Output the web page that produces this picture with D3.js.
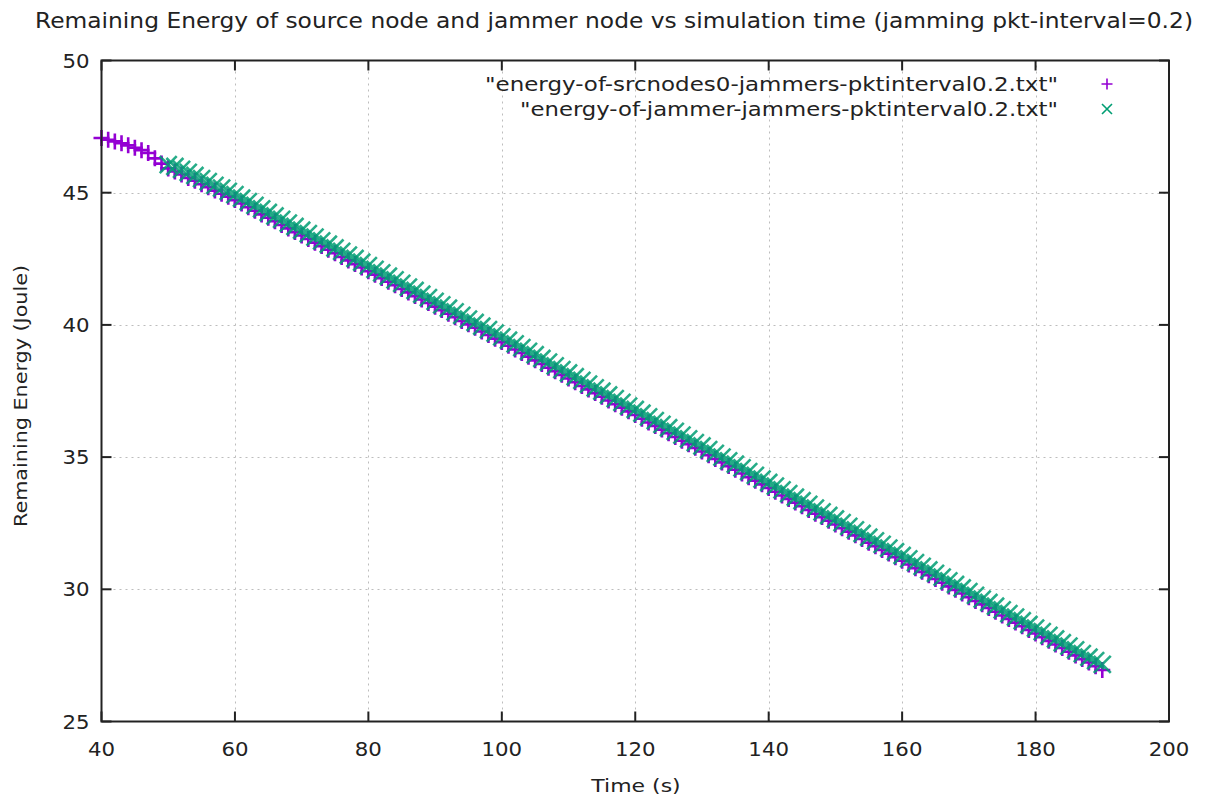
<!DOCTYPE html>
<html>
<head>
<meta charset="utf-8">
<script src="https://cdn.jsdelivr.net/npm/d3@7"></script>
<style>
  body { margin: 0; background: #fff; }
  text { font-family: "DejaVu Sans", sans-serif; fill: #222; }
</style>
</head>
<body>
<script>
// chart values
var titleText = "Remaining Energy of source node and jammer node vs simulation time (jamming pkt-interval=0.2)";
var xLabel = "Time (s)";
var yLabel = "Remaining Energy (Joule)";
var xTicks = [40, 60, 80, 100, 120, 140, 160, 180, 200];
var yTicks = [25, 30, 35, 40, 45, 50];
var seriesNames = ['"energy-of-srcnodes0-jammers-pktinterval0.2.txt"', '"energy-of-jammer-jammers-pktinterval0.2.txt"'];

// source node, one sample per second from t=40
var srcStart = 40;
var srcEnergy = [
  47.07, 47.00, 46.94, 46.87, 46.79, 46.70, 46.61, 46.50, 46.30, 46.10,
  45.92, 45.80, 45.69, 45.56, 45.45, 45.32, 45.21, 45.08, 44.96, 44.85,
  44.72, 44.59, 44.45, 44.32, 44.18, 44.05, 43.92, 43.78, 43.65, 43.51,
  43.38, 43.25, 43.11, 42.98, 42.84, 42.71, 42.57, 42.44, 42.30, 42.17,
  42.03, 41.90, 41.77, 41.63, 41.50, 41.36, 41.23, 41.09, 40.96, 40.83,
  40.69, 40.56, 40.42, 40.29, 40.15, 40.02, 39.89, 39.75, 39.62, 39.48,
  39.35, 39.21, 39.07, 38.94, 38.80, 38.66, 38.52, 38.38, 38.25, 38.11,
  37.97, 37.83, 37.69, 37.56, 37.42, 37.28, 37.14, 37.00, 36.87, 36.73,
  36.59, 36.45, 36.31, 36.18, 36.04, 35.90, 35.76, 35.62, 35.49, 35.35,
  35.21, 35.07, 34.93, 34.80, 34.66, 34.52, 34.38, 34.24, 34.11, 33.97,
  33.83, 33.69, 33.55, 33.42, 33.28, 33.14, 33.00, 32.86, 32.73, 32.59,
  32.45, 32.31, 32.18, 32.04, 31.90, 31.76, 31.63, 31.49, 31.35, 31.21,
  31.08, 30.94, 30.80, 30.66, 30.53, 30.39, 30.25, 30.11, 29.98, 29.84,
  29.70, 29.56, 29.43, 29.29, 29.15, 29.01, 28.88, 28.74, 28.60, 28.46,
  28.33, 28.19, 28.05, 27.91, 27.78, 27.64, 27.50, 27.36, 27.23, 27.09,
  26.95
];

// jammer node, one sample per second from t=50
var jamStart = 50;
var jamEnergy = [
  46.06, 45.99, 45.88, 45.77, 45.65, 45.53, 45.42, 45.28, 45.17, 45.05,
  44.93, 44.79, 44.66, 44.52, 44.39, 44.25, 44.12, 43.99, 43.85, 43.72,
  43.58, 43.45, 43.32, 43.18, 43.05, 42.91, 42.78, 42.64, 42.51, 42.37,
  42.24, 42.10, 41.97, 41.84, 41.70, 41.57, 41.43, 41.30, 41.16, 41.03,
  40.89, 40.76, 40.63, 40.49, 40.36, 40.22, 40.09, 39.95, 39.82, 39.69,
  39.55, 39.42, 39.28, 39.14, 39.00, 38.87, 38.73, 38.59, 38.45, 38.31,
  38.18, 38.04, 37.90, 37.76, 37.62, 37.49, 37.35, 37.21, 37.07, 36.93,
  36.80, 36.66, 36.52, 36.38, 36.24, 36.11, 35.97, 35.83, 35.69, 35.55,
  35.42, 35.28, 35.14, 35.00, 34.86, 34.73, 34.59, 34.45, 34.31, 34.17,
  34.04, 33.90, 33.76, 33.62, 33.48, 33.35, 33.21, 33.07, 32.93, 32.79,
  32.66, 32.52, 32.38, 32.25, 32.11, 31.97, 31.83, 31.70, 31.56, 31.42,
  31.28, 31.15, 31.01, 30.87, 30.73, 30.60, 30.46, 30.32, 30.18, 30.05,
  29.91, 29.77, 29.63, 29.50, 29.36, 29.22, 29.08, 28.95, 28.81, 28.67,
  28.53, 28.40, 28.26, 28.12, 27.98, 27.85, 27.71, 27.57, 27.43, 27.30,
  27.16
];

var width = 1205, height = 796;
var margin = {left: 101.5, right: 1205 - 1169, top: 60.5, bottom: 796 - 721.5};
var colors = ["#9400d3", "#009e73"];

var svg = d3.select("body").append("svg")
  .attr("width", width)
  .attr("height", height);

var x = d3.scaleLinear().domain([40, 200]).range([margin.left, width - margin.right]);
var y = d3.scaleLinear().domain([25, 50]).range([height - margin.bottom, margin.top]);

// the reference output is a little wider than tall, so widen text a bit
function stretch(sel, f) {
  sel.each(function() {
    var w = this.getComputedTextLength();
    d3.select(this).attr("textLength", w * f).attr("lengthAdjust", "spacingAndGlyphs");
  });
}

// dotted grid
var grid = svg.append("g")
  .attr("stroke", "#bdbdbd")
  .attr("stroke-width", 1)
  .attr("stroke-dasharray", "2,4");
grid.selectAll(".gx").data(xTicks.slice(1, -1)).enter().append("line")
  .attr("x1", function(d) { return Math.round(x(d)) + 0.5; })
  .attr("x2", function(d) { return Math.round(x(d)) + 0.5; })
  .attr("y1", y(25)).attr("y2", y(50));
grid.selectAll(".gy").data(yTicks.slice(1, -1)).enter().append("line")
  .attr("y1", function(d) { return Math.round(y(d)) + 0.5; })
  .attr("y2", function(d) { return Math.round(y(d)) + 0.5; })
  .attr("x1", x(40)).attr("x2", x(200));

// build point lists
var srcPts = srcEnergy.map(function(v, i) { return {t: srcStart + i, e: v}; });
var jamPts = jamEnergy.map(function(v, i) { return {t: jamStart + i, e: v}; });

function plusPath(s) { return "M" + (-s) + ",0H" + s + "M0," + (-s) + "V" + s; }
function crossPath(s) { return "M" + (-s) + "," + (-s) + "L" + s + "," + s + "M" + (-s) + "," + s + "L" + s + "," + (-s); }

svg.append("g").selectAll("path").data(srcPts).enter().append("path")
  .attr("d", plusPath(8))
  .attr("transform", function(d) { return "translate(" + x(d.t) + "," + y(d.e) + ")"; })
  .attr("stroke", colors[0])
  .attr("stroke-width", 2.6)
  .attr("fill", "none");

svg.append("g").selectAll("path").data(jamPts).enter().append("path")
  .attr("d", crossPath(8.5))
  .attr("transform", function(d) { return "translate(" + x(d.t) + "," + y(d.e) + ")"; })
  .attr("stroke", colors[1])
  .attr("stroke-width", 2.6)
  .attr("stroke-opacity", 0.85)
  .attr("fill", "none");

// frame with mirrored inward ticks
var axisG = svg.append("g").attr("stroke", "#222").attr("stroke-width", 2).attr("fill", "none");
axisG.append("rect")
  .attr("x", x(40)).attr("y", y(50))
  .attr("width", x(200) - x(40)).attr("height", y(25) - y(50));
var tickLen = 10;
xTicks.forEach(function(d) {
  axisG.append("line").attr("x1", x(d)).attr("x2", x(d)).attr("y1", y(25)).attr("y2", y(25) - tickLen);
  axisG.append("line").attr("x1", x(d)).attr("x2", x(d)).attr("y1", y(50)).attr("y2", y(50) + tickLen);
});
yTicks.forEach(function(d) {
  axisG.append("line").attr("y1", y(d)).attr("y2", y(d)).attr("x1", x(40)).attr("x2", x(40) + tickLen);
  axisG.append("line").attr("y1", y(d)).attr("y2", y(d)).attr("x1", x(200)).attr("x2", x(200) - tickLen);
});

// tick labels
svg.append("g").selectAll("text").data(xTicks).enter().append("text")
  .attr("x", function(d) { return x(d); })
  .attr("y", y(25) + 34)
  .attr("text-anchor", "middle")
  .style("font-size", "19px")
  .text(function(d) { return d; })
  .call(stretch, 1.12);
svg.append("g").selectAll("text").data(yTicks).enter().append("text")
  .attr("x", x(40) - 12)
  .attr("y", function(d) { return y(d) + 7; })
  .attr("text-anchor", "end")
  .style("font-size", "19px")
  .text(function(d) { return d; })
  .call(stretch, 1.12);

// axis labels and title
svg.append("text")
  .attr("x", 636).attr("y", 792)
  .attr("text-anchor", "middle")
  .style("font-size", "18px")
  .text(xLabel)
  .call(stretch, 1.22);
svg.append("text")
  .attr("transform", "translate(27,396) rotate(-90)")
  .attr("text-anchor", "middle")
  .style("font-size", "18px")
  .text(yLabel)
  .call(stretch, 1.15);
svg.append("text")
  .attr("x", 614).attr("y", 28)
  .attr("text-anchor", "middle")
  .attr("textLength", 1158)
  .attr("lengthAdjust", "spacingAndGlyphs")
  .style("font-size", "21px")
  .text(titleText);

// legend
var legend = svg.append("g");
var legendWidths = [573, 538];
seriesNames.forEach(function(name, i) {
  var ly = 84 + i * 25;
  legend.append("text")
    .attr("x", 1058).attr("y", ly + 7)
    .attr("text-anchor", "end")
    .attr("textLength", legendWidths[i])
    .attr("lengthAdjust", "spacingAndGlyphs")
    .style("font-size", "19px")
    .text(name);
  legend.append("path")
    .attr("d", i === 0 ? plusPath(5.5) : crossPath(5))
    .attr("transform", "translate(1107," + ly + ")")
    .attr("stroke", colors[i])
    .attr("stroke-width", 1.6)
    .attr("fill", "none");
});
</script>
</body>
</html>
